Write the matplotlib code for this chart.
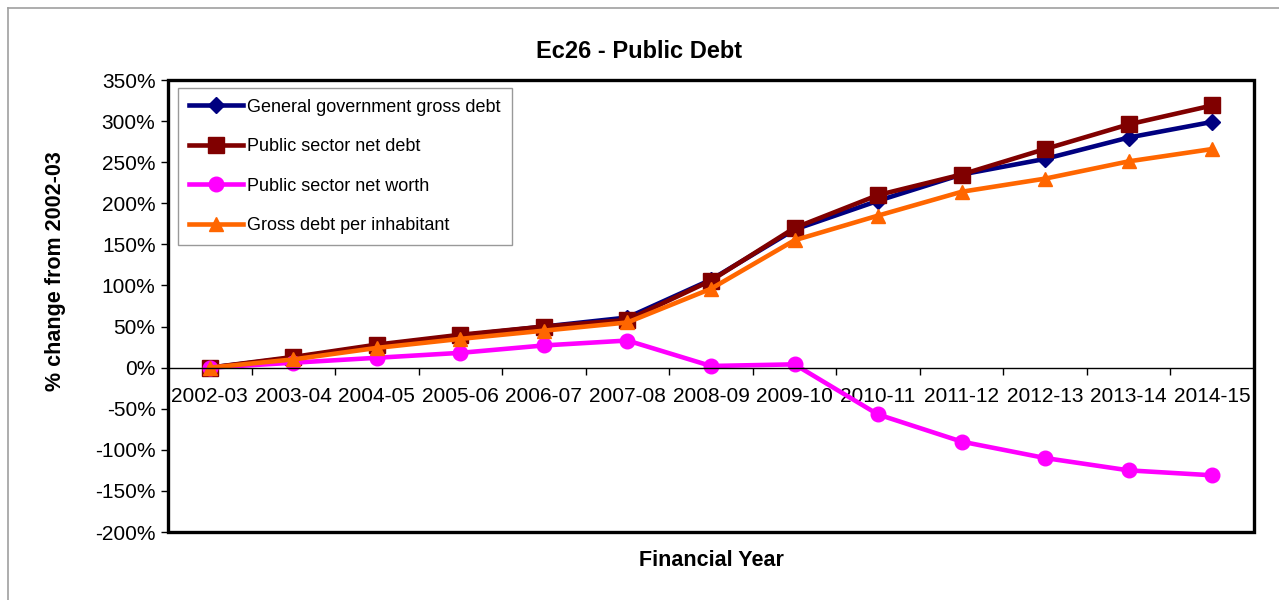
import matplotlib.pyplot as plt
import numpy as np
from matplotlib.lines import Line2D
from matplotlib.patches import Rectangle

plt.rcParams["font.family"] = ["Liberation Sans", "DejaVu Sans"]

years = ["2002-03", "2003-04", "2004-05", "2005-06", "2006-07", "2007-08", "2008-09",
         "2009-10", "2010-11", "2011-12", "2012-13", "2013-14", "2014-15"]

gross_debt = [0, 12, 27, 39, 50, 61, 107, 168, 203, 235, 254, 280, 299]
net_debt = [0, 13, 28, 40, 50, 58, 106, 170, 210, 235, 266, 296, 319]
net_worth = [0, 6, 12, 18, 27, 33, 2, 4, -57, -90, -110, -125, -131]
debt_per_head = [0, 10, 24, 35, 45, 55, 96, 155, 185, 214, 230, 251, 266]

series = [
    ("General government gross debt", gross_debt, "#000080", "D", 8.5),
    ("Public sector net debt", net_debt, "#800000", "s", 11),
    ("Public sector net worth", net_worth, "#FF00FF", "o", 10.5),
    ("Gross debt per inhabitant", debt_per_head, "#FF6600", "^", 10),
]

fig = plt.figure(figsize=(12.79, 6.0), dpi=100)
ax = fig.add_axes([168 / 1279, 1 - 532 / 600, (1254 - 168) / 1279, (532 - 80) / 600])

# outer chart frame (top and left edges)
fig.add_artist(Line2D([8 / 1279, 1], [1 - 8 / 600, 1 - 8 / 600], color="#a0a0a0", lw=1.2,
                      transform=fig.transFigure))
fig.add_artist(Line2D([8 / 1279, 8 / 1279], [0, 1 - 8 / 600], color="#a0a0a0", lw=1.2,
                      transform=fig.transFigure))

x = np.arange(len(years))
handles = []
for label, vals, color, marker, ms in series:
    h, = ax.plot(x, vals, color=color, lw=3.3, marker=marker, ms=ms, label=label,
                 clip_on=False)
    handles.append(h)

ax.set_xlim(-0.5, len(years) - 0.5)
ax.set_ylim(-200, 350)
ax.set_yticks(np.arange(-200, 351, 50))
ax.set_yticklabels([f"{v}%" for v in range(-200, 351, 50)], fontsize=15)
ax.tick_params(axis="y", direction="out", length=5, width=1, pad=4)

# category axis sits on the zero line
ax.spines["bottom"].set_position(("data", 0))
ax.spines["bottom"].set_linewidth(1)
ax.set_xticks(x)
ax.set_xticklabels(years, fontsize=15)
ax.set_xticks(np.arange(0.5, len(years) - 0.5), minor=True)
ax.tick_params(axis="x", which="major", length=0, pad=14)
ax.tick_params(axis="x", which="minor", direction="out", length=5, width=1)

for side in ["left", "top", "right"]:
    ax.spines[side].set_linewidth(1.8)
ax.add_patch(Rectangle((0, 0), 1, 1, transform=ax.transAxes, fill=False,
                       edgecolor="black", lw=2.4, clip_on=False, zorder=5))

fig.text(0.5, 1 - 52 / 600, "Ec26 - Public Debt", ha="center", va="center",
         fontsize=17, fontweight="bold")
ax.set_ylabel("% change from 2002-03", fontsize=15.5, fontweight="bold")
ax.yaxis.set_label_coords((66 - 168) / (1254 - 168), (532 - 271) / (532 - 80))
fig.text((168 + 1254) / 2 / 1279, 1 - 560 / 600, "Financial Year", ha="center",
         va="center", fontsize=15.5, fontweight="bold")

leg = ax.legend(handles=handles, loc="upper left", bbox_to_anchor=(0.009, 0.983),
                fontsize=13, frameon=True, fancybox=False, edgecolor="#808080",
                labelspacing=1.25, handlelength=3.0, handletextpad=0.25,
                borderpad=0.6, borderaxespad=0)
leg.get_frame().set_linewidth(1)

fig.savefig("out.png", dpi=100)
